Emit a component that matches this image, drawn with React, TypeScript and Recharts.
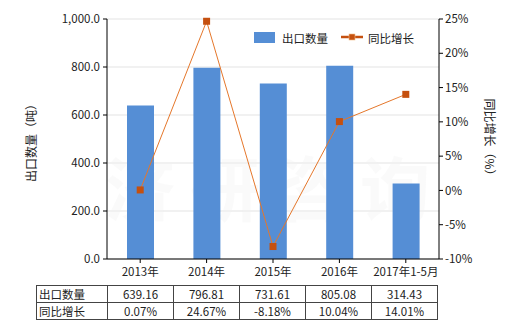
import React from 'react';
import { ComposedChart, Bar, Line, XAxis, YAxis, CartesianGrid, Customized } from 'recharts';

const categories = ['2013年', '2014年', '2015年', '2016年', '2017年1-5月'];
const exportQty = [639.16, 796.81, 731.61, 805.08, 314.43];
const yoyGrowth = [0.07, 24.67, -8.18, 10.04, 14.01];
const qtyLabels = ['639.16', '796.81', '731.61', '805.08', '314.43'];
const growthLabels = ['0.07%', '24.67%', '-8.18%', '10.04%', '14.01%'];
const leftTicks = [0, 200, 400, 600, 800, 1000];
const rightTicks = [-10, -5, 0, 5, 10, 15, 20, 25];
const watermark = ['济', '研', '咨', '询'];

const data = categories.map((c, i) => ({ cat: c, qty: exportQty[i], yoy: yoyGrowth[i] }));

const FONT = '"Noto Sans CJK SC", "DejaVu Sans", sans-serif';
const BAR = '#558ed5';
const LINE = '#e5772b';
const MARK = '#c5500f';

const fmtLeft = (v: number) => v.toLocaleString('en-US', { minimumFractionDigits: 1, maximumFractionDigits: 1 });

const SquareDot = (props: any) => {
  const { cx, cy } = props;
  if (cx == null || cy == null) return null;
  return <rect x={cx - 3.5} y={cy - 3.5} width={7} height={7} fill={MARK} />;
};

const Watermark = () => (
  <g>
    {watermark.map((ch, i) => (
      <text
        key={ch}
        x={140 + i * 85}
        y={216}
        textAnchor="middle"
        fontSize={70}
        fontWeight={700}
        fontFamily={FONT}
        fill="#f2f2f2"
        fillOpacity={0.4}
      >
        {ch}
      </text>
    ))}
  </g>
);

const Labels = () => (
  <g fontFamily={FONT} fontSize={12} fill="#222">
    <text x={30} y={140} textAnchor="middle" dominantBaseline="central" transform="rotate(-90 30 140)">
      出口数量（吨）
    </text>
    <text x={490} y={140} textAnchor="middle" dominantBaseline="central" transform="rotate(90 490 140)">
      同比增长（%）
    </text>
    <rect x={254} y={32} width={21} height={11} fill={BAR} />
    <text x={282} y={38} dominantBaseline="central" fontSize={11.5}>出口数量</text>
    <line x1={341} y1={37} x2={363} y2={37} stroke={MARK} strokeWidth={2.5} />
    <rect x={349} y={34} width={6} height={6} fill={MARK} stroke="#f5c08a" strokeWidth={0.6} />
    <text x={368} y={38} dominantBaseline="central" fontSize={11.5}>同比增长</text>
  </g>
);

const cellStyle: React.CSSProperties = {
  border: '1px solid #444',
  padding: 0,
  height: 16,
  lineHeight: '16px',
  textAlign: 'center',
  fontSize: 11.5,
  color: '#222',
  whiteSpace: 'nowrap',
  overflow: 'hidden',
};

export default function App() {
  return (
    <div style={{ position: 'absolute', left: 0, top: 0, width: 520, height: 330, background: '#fff', fontFamily: FONT }}>
      <ComposedChart width={520} height={330} data={data} margin={{ top: 19, right: 0, bottom: 0, left: 0 }}>
        <CartesianGrid vertical={false} stroke="#e3e3e3" yAxisId="left" />
        <XAxis
          dataKey="cat"
          height={71}
          tickSize={4}
          tickMargin={5}
          axisLine={{ stroke: '#000' }}
          tickLine={{ stroke: '#000' }}
          tick={{ fill: '#222', fontSize: 11.5, fontFamily: FONT }}
          interval={0}
        />
        <YAxis
          yAxisId="left"
          width={107}
          domain={[0, 1000]}
          ticks={leftTicks}
          tickFormatter={fmtLeft}
          tickSize={4}
          tickMargin={3}
          axisLine={{ stroke: '#000' }}
          tickLine={{ stroke: '#000' }}
          tick={{ fill: '#222', fontSize: 11.5, fontFamily: FONT }}
          interval={0}
        />
        <YAxis
          yAxisId="right"
          orientation="right"
          width={81}
          domain={[-10, 25]}
          ticks={rightTicks}
          tickFormatter={(v: number) => `${v}%`}
          tickSize={4}
          tickMargin={2}
          axisLine={{ stroke: '#000' }}
          tickLine={{ stroke: '#000' }}
          tick={{ fill: '#222', fontSize: 11.5, fontFamily: FONT }}
          interval={0}
        />
        <Bar yAxisId="left" dataKey="qty" fill={BAR} barSize={27} isAnimationActive={false} />
        <Customized component={Watermark} />
        <Line
          yAxisId="right"
          dataKey="yoy"
          stroke={LINE}
          strokeWidth={1}
          dot={<SquareDot />}
          activeDot={false}
          isAnimationActive={false}
        />
        <Customized component={Labels} />
      </ComposedChart>
      <table
        style={{
          position: 'absolute',
          left: 36,
          top: 285,
          borderCollapse: 'collapse',
          tableLayout: 'fixed',
          width: 401,
          fontFamily: FONT,
        }}
      >
        <colgroup>
          <col style={{ width: 71 }} />
          {categories.map((c) => (
            <col key={c} style={{ width: 66 }} />
          ))}
        </colgroup>
        <tbody>
          <tr>
            <td style={{ ...cellStyle, textAlign: 'left', paddingLeft: 2 }}>出口数量</td>
            {qtyLabels.map((v, i) => (
              <td key={i} style={cellStyle}>{v}</td>
            ))}
          </tr>
          <tr>
            <td style={{ ...cellStyle, textAlign: 'left', paddingLeft: 2 }}>同比增长</td>
            {growthLabels.map((v, i) => (
              <td key={i} style={cellStyle}>{v}</td>
            ))}
          </tr>
        </tbody>
      </table>
    </div>
  );
}
